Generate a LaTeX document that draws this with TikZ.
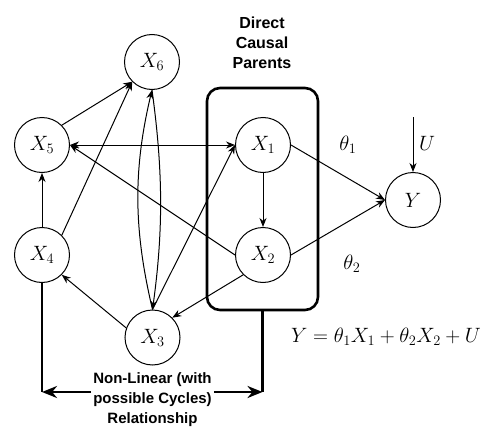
\documentclass[tikz,border=0pt]{standalone}
\usepackage{fontspec}
\newfontfamily\labelfont{Liberation Sans}
\usetikzlibrary{arrows.meta}
\begin{document}
\begin{tikzpicture}[x=1pt,y=-1pt,
  var/.style={circle,draw,line width=1pt,minimum size=55pt,inner sep=0pt,
    font=\fontsize{21}{24}\selectfont},
  mathlabel/.style={font=\fontsize{21}{24}\selectfont,inner sep=1pt},
  edge/.style={line width=1pt,-{Stealth[length=9pt,width=7pt]}},
  heavy/.style={line width=2.6pt},
  caption/.style={font=\labelfont\bfseries\fontsize{15}{20}\selectfont,
    align=center,inner sep=2pt}]
\useasboundingbox (0,0) rectangle (487,428);

% variables
\node[var] (x6) at (152,62) {$X_6$};
\node[var] (x5) at (42,145) {$X_5$};
\node[var] (x1) at (263,145) {$X_1$};
\node[var] (y) at (413,200) {$Y$};
\node[var] (x4) at (42,255) {$X_4$};
\node[var] (x2) at (263,255) {$X_2$};
\node[var] (x3) at (152.5,337.5) {$X_3$};

% group of direct causal parents
\node[draw,heavy,rounded corners=13pt,minimum width=111pt,minimum height=222pt]
  (box) at (262.5,199) {};
\node[caption,font=\labelfont\bfseries\fontsize{16}{20}\selectfont]
  (title) at (262,43) {Direct\\Causal\\Parents};

% causal links among the X variables
\draw[edge] (x5.north east) -- (x6.south west);
\draw[edge] (x4.north east) -- (x6.south west);
\draw[edge] (x4) -- (x5);
\draw[line width=1pt,{Stealth[length=9pt,width=7pt]}-{Stealth[length=9pt,width=7pt]}]
  (x5) -- (x1);
\draw[edge] (x2.west) -- (x5.east);
\draw[edge] (x3.north) -- (x1.west);
\draw[edge] (x3.north) .. controls +(-19,-80) and +(-19,80) .. (x6.south);
\draw[edge] (x6.south) .. controls +(11,80) and +(11,-80) .. (x3.north);
\draw[edge] (x1) -- (x2);
\draw[edge] (x2.south west) -- (x3.north east);
\draw[edge] (x3.160) -- (x4.south east);

% structural equation for Y
\draw[edge] (x1.east) -- (y.west);
\draw[edge] (x2.east) -- (y.west);
\coordinate (u) at (413,117);
\draw[edge] (u) -- (y);
\node[mathlabel] (ulab) at (427,143) {$U$};
\node[mathlabel] (t1) at (348,145) {$\theta_1$};
\node[mathlabel] (t2) at (352,264) {$\theta_2$};
\node[mathlabel] (eq) at (386,337) {$Y=\theta_1X_1+\theta_2X_2+U$};

% non-linear relationship bracket
\node[caption] (rel) at (152.5,400) {Non-Linear (with\\possible Cycles)\\Relationship};
\coordinate (cl) at (42,392);
\coordinate (cr) at (262.5,392);
\draw[heavy] (x4.south) -- (cl);
\draw[heavy] (box.south) -- (cr);
\draw[heavy,-{Stealth[length=15pt,width=12pt]}] (rel.west |- cl) -- (cl);
\draw[heavy,-{Stealth[length=15pt,width=12pt]}] (rel.east |- cr) -- (cr);
\end{tikzpicture}
\end{document}
